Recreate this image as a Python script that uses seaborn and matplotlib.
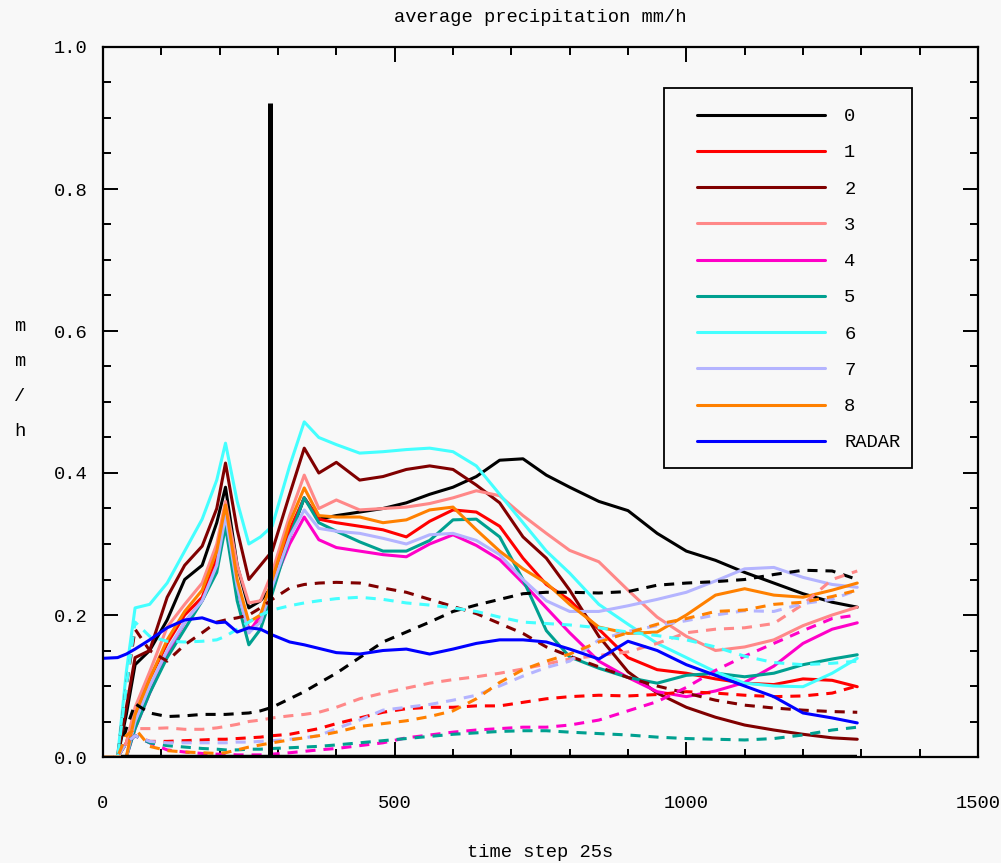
import numpy as np
import pandas as pd
import matplotlib
matplotlib.use("Agg")
import matplotlib.pyplot as plt
import seaborn as sns
from matplotlib.ticker import MultipleLocator, FormatStrFormatter
from matplotlib.patches import Rectangle

# ---------------- data ----------------
time_steps = [0, 25, 40, 55, 80, 110, 140, 170, 195, 210, 230, 250, 270, 290, 320, 345, 370, 400, 440,
              480, 520, 560, 600, 640, 680, 720, 760, 800, 850, 900, 950, 1000, 1050, 1100, 1150, 1200,
              1250, 1293]

series_labels = ["0", "1", "2", "3", "4", "5", "6", "7", "8", "RADAR"]

solid_0 = [0, 0, 0.06, 0.13, 0.15, 0.193, 0.25, 0.27, 0.33, 0.38, 0.27, 0.21, 0.22, 0.24, 0.31, 0.365, 0.335, 0.34, 0.345,
           0.35, 0.358, 0.37, 0.38, 0.395, 0.418, 0.42, 0.397, 0.38, 0.36, 0.347, 0.315, 0.29, 0.277, 0.26, 0.245, 0.23,
           0.218, 0.211]
solid_1 = [0, 0, 0.02, 0.06, 0.11, 0.16, 0.2, 0.225, 0.28, 0.345, 0.24, 0.18, 0.19, 0.24, 0.32, 0.365, 0.335, 0.33, 0.325,
           0.32, 0.31, 0.332, 0.348, 0.345, 0.325, 0.28, 0.243, 0.221, 0.18, 0.14, 0.123, 0.118, 0.11, 0.104, 0.102, 0.11,
           0.108, 0.099]
solid_2 = [0, 0, 0.07, 0.14, 0.15, 0.225, 0.27, 0.297, 0.35, 0.414, 0.32, 0.25, 0.27, 0.29, 0.37, 0.435, 0.40, 0.415, 0.39,
           0.395, 0.405, 0.41, 0.405, 0.383, 0.358, 0.31, 0.28, 0.235, 0.17, 0.12, 0.09, 0.07, 0.056, 0.045, 0.038, 0.032,
           0.027, 0.025]
solid_3 = [0, 0, 0.02, 0.07, 0.12, 0.183, 0.215, 0.245, 0.30, 0.36, 0.27, 0.217, 0.22, 0.26, 0.34, 0.397, 0.35, 0.362, 0.348,
           0.35, 0.352, 0.357, 0.365, 0.375, 0.368, 0.34, 0.315, 0.291, 0.275, 0.235, 0.197, 0.17, 0.15, 0.155, 0.165, 0.185,
           0.2, 0.211]
solid_4 = [0, 0, 0.0, 0.04, 0.09, 0.145, 0.19, 0.22, 0.27, 0.33, 0.24, 0.175, 0.2, 0.24, 0.3, 0.338, 0.306, 0.295, 0.29,
           0.285, 0.282, 0.3, 0.313, 0.298, 0.278, 0.245, 0.21, 0.175, 0.135, 0.112, 0.092, 0.085, 0.093, 0.105, 0.128, 0.16,
           0.18, 0.189]
solid_5 = [0, 0, 0.0, 0.04, 0.09, 0.14, 0.18, 0.22, 0.26, 0.325, 0.22, 0.158, 0.18, 0.23, 0.31, 0.365, 0.33, 0.318, 0.303,
           0.29, 0.29, 0.305, 0.334, 0.335, 0.31, 0.25, 0.178, 0.141, 0.125, 0.112, 0.104, 0.115, 0.118, 0.113, 0.118, 0.13,
           0.138, 0.144]
solid_6 = [0, 0, 0.12, 0.21, 0.215, 0.245, 0.29, 0.335, 0.39, 0.442, 0.36, 0.30, 0.31, 0.325, 0.41, 0.472, 0.45, 0.44, 0.428,
           0.43, 0.433, 0.435, 0.43, 0.41, 0.37, 0.33, 0.29, 0.259, 0.215, 0.187, 0.16, 0.14, 0.12, 0.104, 0.1, 0.099,
           0.118, 0.139]
solid_7 = [0, 0, 0.0, 0.05, 0.1, 0.15, 0.19, 0.22, 0.27, 0.34, 0.24, 0.175, 0.19, 0.24, 0.31, 0.348, 0.322, 0.318, 0.315,
           0.308, 0.3, 0.313, 0.315, 0.305, 0.285, 0.25, 0.22, 0.205, 0.205, 0.213, 0.222, 0.232, 0.248, 0.265, 0.267, 0.253,
           0.243, 0.239]
solid_8 = [0, 0, 0.0, 0.06, 0.11, 0.165, 0.205, 0.235, 0.29, 0.355, 0.25, 0.19, 0.2, 0.25, 0.33, 0.379, 0.34, 0.338, 0.338,
           0.33, 0.334, 0.348, 0.352, 0.32, 0.29, 0.265, 0.245, 0.215, 0.183, 0.174, 0.176, 0.2, 0.228, 0.237, 0.228, 0.225,
           0.235, 0.245]
radar = [0.139, 0.14, 0.145, 0.152, 0.165, 0.182, 0.193, 0.196, 0.189, 0.19, 0.176, 0.182, 0.18, 0.172, 0.162, 0.158, 0.153,
         0.147, 0.145, 0.15, 0.152, 0.145, 0.152, 0.16, 0.165, 0.165, 0.162, 0.152, 0.138, 0.163, 0.15, 0.13, 0.115, 0.1,
         0.085, 0.062, 0.055, 0.048]

dashed_0 = [0, 0, 0.04, 0.075, 0.062, 0.057, 0.058, 0.06, 0.06, 0.06, 0.061, 0.062, 0.065, 0.07, 0.082, 0.092, 0.104, 0.118,
            0.14, 0.162, 0.176, 0.19, 0.205, 0.214, 0.222, 0.23, 0.232, 0.232, 0.231, 0.233, 0.242, 0.245, 0.247, 0.25,
            0.257, 0.263, 0.262, 0.25]
dashed_1 = [0, 0, 0.02, 0.03, 0.022, 0.022, 0.023, 0.024, 0.025, 0.025, 0.026, 0.027, 0.028, 0.03, 0.032, 0.036, 0.04, 0.047,
            0.055, 0.063, 0.068, 0.07, 0.07, 0.072, 0.072, 0.077, 0.082, 0.085, 0.087, 0.086, 0.088, 0.092, 0.09, 0.087,
            0.085, 0.086, 0.09, 0.1]
dashed_2 = [0, 0, 0.1, 0.18, 0.15, 0.135, 0.158, 0.175, 0.19, 0.193, 0.196, 0.2, 0.21, 0.222, 0.238, 0.243, 0.245, 0.246,
            0.245, 0.238, 0.232, 0.222, 0.212, 0.202, 0.188, 0.174, 0.155, 0.142, 0.127, 0.112, 0.1, 0.09, 0.08, 0.073,
            0.069, 0.066, 0.064, 0.063]
dashed_3 = [0, 0, 0.03, 0.04, 0.04, 0.041, 0.039, 0.039, 0.041, 0.043, 0.046, 0.05, 0.052, 0.055, 0.058, 0.06, 0.063, 0.07,
            0.082, 0.09, 0.097, 0.104, 0.109, 0.113, 0.118, 0.124, 0.131, 0.138, 0.143, 0.148, 0.16, 0.175, 0.18, 0.182,
            0.188, 0.215, 0.25, 0.262]
dashed_4 = [0, 0, 0.02, 0.03, 0.02, 0.01, 0.007, 0.005, 0.004, 0.004, 0.003, 0.003, 0.003, 0.004, 0.006, 0.008, 0.01, 0.012,
            0.016, 0.02, 0.027, 0.031, 0.035, 0.038, 0.04, 0.042, 0.042, 0.045, 0.052, 0.065, 0.078, 0.098, 0.122, 0.142,
            0.16, 0.178, 0.195, 0.2]
dashed_5 = [0, 0, 0.02, 0.03, 0.02, 0.016, 0.014, 0.012, 0.011, 0.01, 0.01, 0.011, 0.011, 0.012, 0.013, 0.014, 0.015, 0.017,
            0.02, 0.023, 0.026, 0.029, 0.032, 0.034, 0.036, 0.037, 0.037, 0.035, 0.033, 0.031, 0.028, 0.026, 0.025, 0.024,
            0.026, 0.031, 0.038, 0.042]
dashed_6 = [0, 0, 0.1, 0.19, 0.17, 0.163, 0.162, 0.163, 0.165, 0.17, 0.18, 0.19, 0.2, 0.207, 0.213, 0.217, 0.22, 0.223,
            0.225, 0.222, 0.217, 0.214, 0.21, 0.205, 0.197, 0.19, 0.188, 0.186, 0.182, 0.176, 0.171, 0.165, 0.155, 0.142,
            0.133, 0.13, 0.132, 0.135]
dashed_7 = [0, 0, 0.02, 0.03, 0.022, 0.02, 0.02, 0.02, 0.02, 0.02, 0.021, 0.021, 0.022, 0.023, 0.025, 0.027, 0.03, 0.04,
            0.052, 0.066, 0.07, 0.074, 0.08, 0.087, 0.1, 0.114, 0.126, 0.135, 0.165, 0.177, 0.185, 0.192, 0.2, 0.206,
            0.205, 0.216, 0.222, 0.235]
dashed_8 = [0, 0, 0.03, 0.04, 0.015, 0.009, 0.007, 0.006, 0.005, 0.006, 0.01, 0.014, 0.017, 0.02, 0.024, 0.027, 0.03, 0.035,
            0.043, 0.047, 0.051, 0.057, 0.065, 0.082, 0.105, 0.123, 0.135, 0.145, 0.162, 0.175, 0.187, 0.195, 0.205, 0.207,
            0.215, 0.218, 0.226, 0.235]

zero_line_x = [30, 1293]
zero_line_y = [0, 0]
marker_x = [287, 287]
marker_y = [0, 0.921]

colors = ["#000000", "#ff0000", "#800000", "#ff8888", "#ff00c8", "#00a090", "#44ffff", "#b4b4ff", "#ff8000", "#0000ff"]

# ---------------- style ----------------
sns.set_theme(style="ticks")
BG = "#f8f8f8"
FONT = ["Liberation Mono", "DejaVu Sans Mono"]
plt.rcParams["font.family"] = FONT
plt.rcParams["axes.facecolor"] = BG
plt.rcParams["figure.facecolor"] = BG

fig = plt.figure(figsize=(10.01, 8.63), dpi=100)
ax = fig.add_axes([103 / 1001, 1 - 757 / 863, 875 / 1001, 710 / 863])

solids = [solid_0, solid_1, solid_2, solid_3, solid_4, solid_5, solid_6, solid_7, solid_8]
dasheds = [dashed_0, dashed_1, dashed_2, dashed_3, dashed_4, dashed_5, dashed_6, dashed_7, dashed_8]

LW = 2.2
for i, ys in enumerate(solids):
    df = pd.DataFrame({"t": time_steps, "v": ys})
    sns.lineplot(data=df, x="t", y="v", ax=ax, color=colors[i], lw=LW, label=series_labels[i],
                 sort=False, estimator=None)

for i, ys in enumerate(dasheds):
    df = pd.DataFrame({"t": time_steps, "v": ys})
    sns.lineplot(data=df, x="t", y="v", ax=ax, color=colors[i], lw=LW, sort=False, estimator=None,
                 legend=False)
    ax.lines[-1].set_dashes((3.3, 2.6))

df_r = pd.DataFrame({"t": time_steps, "v": radar})
sns.lineplot(data=df_r, x="t", y="v", ax=ax, color=colors[9], lw=LW, label=series_labels[9], sort=False, estimator=None)

ax.plot(zero_line_x, zero_line_y, color="black", lw=3.2, solid_capstyle="butt", zorder=5)
ax.plot(marker_x, marker_y, color="black", lw=3.6, solid_capstyle="butt", zorder=6)

ax.set_xlim(0, 1500)
ax.set_ylim(0, 1.0)
ax.xaxis.set_major_locator(MultipleLocator(500))
ax.xaxis.set_minor_locator(MultipleLocator(100))
ax.yaxis.set_major_locator(MultipleLocator(0.2))
ax.yaxis.set_minor_locator(MultipleLocator(0.05))
ax.yaxis.set_major_formatter(FormatStrFormatter("%.1f"))
ax.tick_params(which="both", direction="in", top=True, right=True, width=1.4, color="black")
ax.tick_params(which="major", length=11)
ax.tick_params(which="minor", length=5.5)
ax.tick_params(axis="x", which="major", pad=27, labelsize=13.5, labelcolor="black")
ax.tick_params(axis="y", which="major", pad=11, labelsize=13.5, labelcolor="black")
for sp in ax.spines.values():
    sp.set_linewidth(1.6)
    sp.set_color("black")
    sp.set_visible(True)
ax.set_xlabel("")
ax.set_ylabel("")

fig.text(540 / 1001, 1 - 17 / 863, "average precipitation mm/h", ha="center", va="center", fontsize=13.5,
         color="black", family=FONT)
fig.text(540 / 1001, 1 - 852 / 863, "time step 25s", ha="center", va="center", fontsize=13.5, color="black",
         family=FONT)
fig.text(20 / 1001, 1 - 379 / 863, "m\nm\n/\nh", ha="center", va="center", fontsize=13.5, color="black",
         family=FONT, linespacing=2.4)

# legend: frame drawn separately so the padding matches
ax.add_patch(Rectangle(((664 - 103) / 875, (757 - 468) / 710), 248 / 875, 380 / 710, transform=ax.transAxes,
                       facecolor=BG, edgecolor="black", lw=1.3, zorder=9))
leg = ax.legend(loc="upper left", bbox_to_anchor=((697 - 103) / 875, (757 - 108) / 710), borderaxespad=0,
                frameon=False, handlelength=6.8, handletextpad=1.05, labelspacing=1.02,
                borderpad=0, fontsize=13.5)
leg.set_zorder(10)
for t in leg.get_texts():
    t.set_color("black")

fig.savefig("out.png", dpi=100, facecolor=BG)
